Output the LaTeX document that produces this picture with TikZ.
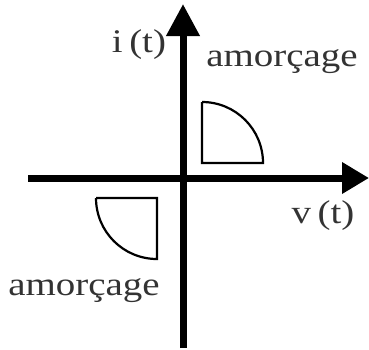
\documentclass[tikz,border=0pt]{standalone}
\usepackage{fontspec}
\setmainfont{Liberation Serif}
\usetikzlibrary{arrows.meta}
\begin{document}
\begin{tikzpicture}[x=1pt,y=-1pt,
  axis/.style={line width=7pt,-{Triangle[length=32pt,width=32pt]}},
  zone/.style={line width=2.2pt,line join=miter},
  lbl/.style={font=\fontsize{33}{36}\selectfont,inner sep=0pt,text=black!80,xscale=1.18}]
\useasboundingbox (0,0) rectangle (369,349);
\coordinate (vb) at (183,348);
\coordinate (vt) at (183,4);
\coordinate (hl) at (28,178);
\coordinate (hr) at (369,178);
\draw[axis] (vb) -- (vt);
\draw[axis,-{Triangle[length=27pt,width=30pt]}] (hl) -- (hr);
% first quadrant zone
\coordinate (c1) at (202,163);
\draw[zone] (202,102) -- (c1) -- (263,163) arc[start angle=0,end angle=-90,radius=61] ;
% third quadrant zone
\coordinate (c3) at (157,198);
\draw[zone] (96,198) -- (c3) -- (157,259) arc[start angle=90,end angle=180,radius=61];
\node[lbl] (it) at (139,45) {i\,(t)};
\node[lbl] (a1) at (282,62) {amorçage};
\node[lbl] (vt2) at (323,216) {v\,(t)};
\node[lbl] (a2) at (84,291) {amorçage};
\end{tikzpicture}
\end{document}
